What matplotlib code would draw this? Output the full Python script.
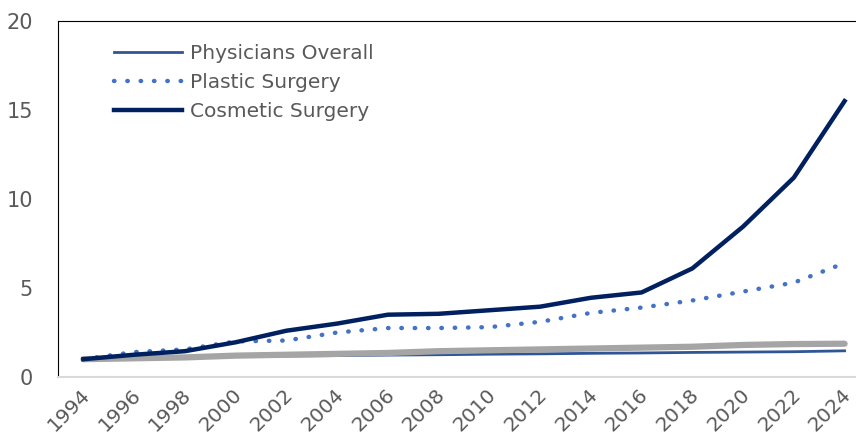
import matplotlib.pyplot as plt
import matplotlib.transforms as mtransforms

years = [1994, 1996, 1998, 2000, 2002, 2004, 2006, 2008, 2010, 2012, 2014, 2016, 2018, 2020, 2022, 2024]

physicians = [1.0, 1.05, 1.1, 1.15, 1.18, 1.2, 1.23, 1.25, 1.28, 1.3, 1.33, 1.35, 1.38, 1.4, 1.42, 1.47]
plastic = [1.0, 1.4, 1.55, 2.0, 2.05, 2.5, 2.75, 2.75, 2.8, 3.1, 3.6, 3.9, 4.3, 4.8, 5.3, 6.4]
cosmetic = [1.0, 1.25, 1.45, 1.95, 2.6, 3.0, 3.5, 3.55, 3.75, 3.95, 4.45, 4.75, 6.1, 8.45, 11.2, 15.5]
# gray series, not in the legend
other = [1.0, 1.05, 1.1, 1.2, 1.25, 1.3, 1.35, 1.45, 1.5, 1.55, 1.6, 1.65, 1.7, 1.8, 1.85, 1.87]

labels = ['Physicians Overall', 'Plastic Surgery', 'Cosmetic Surgery']
xticks = list(range(1994, 2025, 2))
yticks = [0, 5, 10, 15, 20]

txt = '#595959'

fig = plt.figure(figsize=(8.56, 4.43), dpi=100)
ax = fig.add_axes([0.0678, 0.149, 0.9322, 0.8036])

ax.plot(years, physicians, color='#2F5597', lw=2.0, label=labels[0], zorder=3)
ax.plot(years, other, color='#A5A5A5', lw=4.5, solid_capstyle='round', zorder=4)
ax.plot(years, plastic, color='#4472C4', lw=3.2, linestyle=(0, (0.1, 2.9)),
        dash_capstyle='round', label=labels[1], zorder=5)
ax.plot(years, cosmetic, color='#002060', lw=3.2, label=labels[2], zorder=6)

ax.set_xlim(1993.0, 2024.45)
ax.set_ylim(0, 20)
ax.set_xticks(xticks)
ax.set_xticklabels([str(y) for y in xticks], rotation=45, ha='right', rotation_mode='anchor')
ax.set_yticks(yticks)
ax.tick_params(axis='both', length=0, labelsize=14.5, labelcolor=txt)
ax.tick_params(axis='y', labelsize=15, pad=18)
ax.tick_params(axis='x', pad=6)

# nudge the rotated year labels a little left so 2024 stays inside
shift = mtransforms.ScaledTranslation(-3 / 100, 0, fig.dpi_scale_trans)
for lab in ax.get_xticklabels():
    lab.set_transform(lab.get_transform() + shift)

ax.spines['right'].set_visible(False)
ax.spines['top'].set_color('black')
ax.spines['left'].set_color('black')
ax.spines['bottom'].set_color('#D9D9D9')
ax.spines['bottom'].set_linewidth(1.5)

leg = ax.legend(loc='upper left', bbox_to_anchor=(0.047, 0.985), frameon=False,
                fontsize=14.5, handlelength=3.4, handletextpad=0.4, labelspacing=0.48)
for t in leg.get_texts():
    t.set_color(txt)

fig.savefig('out.png', dpi=100)
